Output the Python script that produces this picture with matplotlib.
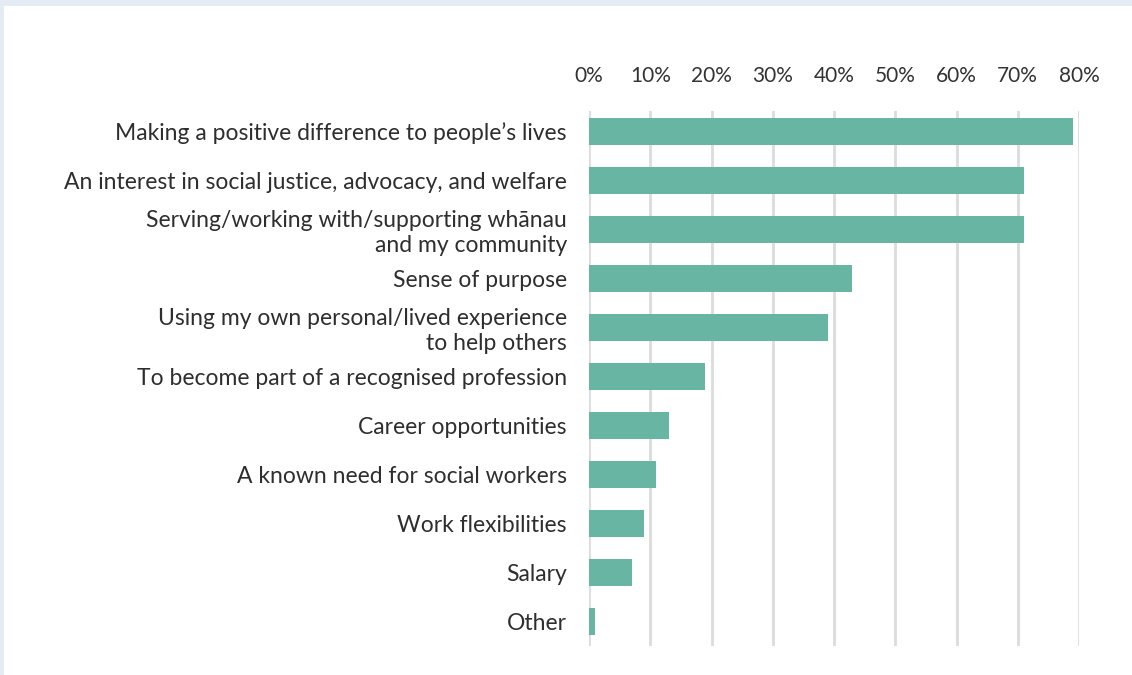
import matplotlib
matplotlib.use("Agg")
import matplotlib.pyplot as plt
from matplotlib.ticker import FuncFormatter
from matplotlib.patches import Rectangle

categories = [
    "Making a positive difference to people\u2019s lives",
    "An interest in social justice, advocacy, and welfare",
    "Serving/working with/supporting wh\u0101nau\nand my community",
    "Sense of purpose",
    "Using my own personal/lived experience\nto help others",
    "To become part of a recognised profession",
    "Career opportunities",
    "A known need for social workers",
    "Work flexibilities",
    "Salary",
    "Other",
]
values = [0.79, 0.71, 0.71, 0.43, 0.39, 0.19, 0.13, 0.11, 0.09, 0.07, 0.01]
ticks = [0.0, 0.1, 0.2, 0.3, 0.4, 0.5, 0.6, 0.7, 0.8]

plt.rcParams["font.family"] = ["Lato", "DejaVu Sans"]

W, H = 1132, 675
fig = plt.figure(figsize=(W / 100, H / 100), dpi=100)
fig.patch.set_facecolor("white")

# light frame along top and left edges
fig.add_artist(Rectangle((0, 1 - 6 / H), 1, 6 / H, transform=fig.transFigure,
                         color="#e4ebf3", lw=0, zorder=0))
fig.add_artist(Rectangle((0, 0), 4 / W, 1, transform=fig.transFigure,
                         color="#e4ebf3", lw=0, zorder=0))

left, right = 589 / W, 1079 / W
bottom, top = 1 - 646 / H, 1 - 111 / H
ax = fig.add_axes([left, bottom, right - left, top - bottom])

y = list(range(len(categories)))
ax.barh(y, values, height=0.55, color="#69b5a4", zorder=3)

ax.set_xlim(0, 0.8)
ax.set_ylim(10.49, -0.41)
ax.set_xticks(ticks)
ax.xaxis.set_major_formatter(FuncFormatter(lambda v, p: f"{v * 100:.0f}%"))
ax.xaxis.tick_top()
ax.tick_params(axis="x", length=0, pad=18, labelsize=15, colors="#333333")
ax.tick_params(axis="y", length=0, pad=16, labelsize=16.5, colors="#2e2e2e")
ax.set_yticks(y)
ax.set_yticklabels(categories, ha="right", multialignment="right", linespacing=1.2)

ax.grid(axis="x", color="#dcdcdc", linewidth=2, zorder=0)
ax.grid(axis="y", visible=False)
for s in ax.spines.values():
    s.set_visible(False)

fig.savefig("out.png", dpi=100)
